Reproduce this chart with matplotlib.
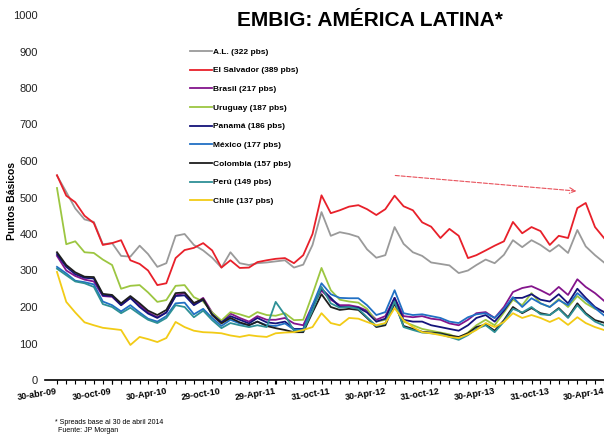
import numpy as np
import pandas as pd
import matplotlib
matplotlib.use('Agg')
import matplotlib.pyplot as plt
from matplotlib.transforms import ScaledTranslation

plt.rcParams['font.family'] = ['Liberation Sans', 'DejaVu Sans']

# fin de mes, abril 2009 - abril 2014
dates = pd.date_range('2009-04-30', '2014-04-30', freq='ME')

al = [560, 515, 470, 440, 433, 372, 375, 340, 338, 368, 345, 310, 320, 395, 400, 370,
      355, 335, 308, 350, 320, 315, 320, 322, 325, 328, 308, 316, 370, 460, 395, 405,
      400, 392, 358, 335, 342, 419, 373, 350, 340, 322, 318, 314, 293, 300, 315, 330,
      320, 343, 383, 364, 383, 370, 352, 370, 348, 411, 366, 342, 322]
salvador = [561, 505, 487, 450, 430, 370, 375, 383, 328, 318, 300, 260, 265, 334, 356, 362,
            375, 355, 308, 328, 307, 308, 323, 328, 332, 334, 320, 342, 400, 506, 457, 465,
            475, 479, 468, 452, 468, 505, 476, 465, 432, 420, 389, 414, 395, 334, 342, 355,
            368, 380, 433, 402, 419, 408, 370, 395, 389, 471, 485, 419, 389]
brasil = [340, 300, 285, 275, 270, 230, 228, 205, 225, 205, 185, 172, 185, 232, 238, 208,
          225, 185, 160, 182, 170, 160, 175, 165, 165, 170, 155, 150, 205, 245, 220, 205,
          205, 200, 190, 165, 175, 225, 175, 172, 175, 168, 165, 155, 150, 165, 183, 186,
          170, 200, 241, 252, 257, 246, 233, 255, 233, 276, 255, 238, 217]
uruguay = [526, 372, 380, 350, 348, 330, 315, 250, 258, 260, 240, 214, 219, 258, 260, 227,
           215, 185, 163, 186, 180, 172, 186, 178, 176, 183, 164, 165, 235, 307, 246, 220,
           215, 212, 195, 160, 165, 220, 160, 150, 140, 135, 130, 125, 115, 130, 150, 165,
           150, 185, 220, 205, 238, 210, 200, 222, 200, 230, 210, 195, 187]
panama = [345, 310, 290, 280, 278, 232, 230, 205, 225, 200, 182, 170, 185, 230, 232, 205,
          220, 180, 158, 175, 165, 155, 170, 158, 155, 160, 140, 140, 200, 250, 225, 200,
          200, 198, 185, 160, 168, 225, 165, 160, 160, 150, 145, 140, 135, 150, 170, 178,
          160, 190, 225, 225, 235, 220, 215, 235, 210, 250, 225, 200, 186]
mexico = [310, 292, 272, 268, 262, 215, 205, 188, 205, 185, 168, 160, 175, 210, 212, 180,
          195, 170, 148, 165, 155, 150, 160, 150, 148, 155, 138, 138, 205, 265, 235, 225,
          224, 224, 205, 178, 186, 246, 183, 178, 180, 175, 170, 160, 156, 172, 180, 183,
          170, 195, 227, 200, 224, 210, 200, 219, 205, 238, 219, 197, 177]
colombia = [350, 315, 295, 283, 282, 236, 233, 210, 230, 210, 190, 178, 192, 238, 240, 211,
            222, 178, 155, 170, 158, 150, 160, 148, 142, 137, 131, 131, 185, 235, 200, 192,
            195, 192, 170, 145, 150, 210, 148, 140, 132, 130, 128, 122, 118, 128, 145, 152,
            135, 164, 200, 183, 197, 183, 178, 197, 172, 210, 183, 164, 157]
peru = [305, 287, 270, 265, 255, 208, 200, 183, 198, 180, 165, 156, 170, 205, 200, 172,
        190, 164, 142, 156, 150, 145, 150, 145, 214, 178, 135, 135, 190, 255, 210, 198,
        200, 195, 172, 148, 155, 215, 145, 137, 130, 128, 125, 118, 110, 123, 140, 150,
        131, 160, 195, 185, 200, 180, 178, 195, 170, 205, 180, 160, 149]
chile = [296, 214, 185, 158, 150, 143, 140, 137, 96, 118, 112, 104, 115, 159, 145, 135,
         131, 130, 128, 122, 118, 123, 120, 118, 128, 130, 131, 137, 145, 183, 156, 150,
         170, 168, 159, 150, 156, 197, 164, 145, 131, 128, 123, 118, 115, 125, 137, 156,
         145, 159, 183, 170, 178, 170, 159, 170, 151, 172, 156, 145, 137]

series = [
    ('A.L. (322 pbs)', al, '#9a9a9a'),
    ('El Salvador (389 pbs)', salvador, '#e8202a'),
    ('Brasil (217 pbs)', brasil, '#84158c'),
    ('Uruguay (187 pbs)', uruguay, '#9cc641'),
    ('Panamá (186 pbs)', panama, '#14137a'),
    ('México (177 pbs)', mexico, '#2170c4'),
    ('Colombia (157 pbs)', colombia, '#1e1e1e'),
    ('Perú (149 pbs)', peru, '#2e9096'),
    ('Chile (137 pbs)', chile, '#f2cb16'),
]

tick_dates = ['2009-04-30', '2009-10-30', '2010-04-30', '2010-10-29', '2011-04-29', '2011-10-31',
              '2012-04-30', '2012-10-31', '2013-04-30', '2013-10-31', '2014-04-30']
tick_labels = ['30-abr-09', '30-oct-09', '30-Apr-10', '29-oct-10', '29-Apr-11', '31-oct-11',
               '30-Apr-12', '31-oct-12', '30-Apr-13', '31-oct-13', '30-Apr-14']

fig = plt.figure(figsize=(6.04, 4.36), dpi=100)
ax = fig.add_axes([45 / 604, 56 / 436, 559 / 604, 365 / 436])

for name, vals, col in series:
    ax.plot(dates, vals, color=col, lw=1.3, label=name)

ax.set_ylim(0, 1000)
ax.set_xlim(pd.Timestamp('2009-03-21'), pd.Timestamp('2014-04-30'))
ax.set_yticks(np.arange(0, 1001, 100))
ax.tick_params(axis='y', length=0, pad=5, labelsize=8, labelcolor='#222222')

ax.set_xticks(pd.to_datetime(tick_dates))
ax.set_xticklabels(tick_labels, fontsize=6.5, fontweight='bold', rotation=9)
ax.set_xticks(dates, minor=True)
ax.tick_params(axis='x', which='both', direction='out', length=3, width=0.8, pad=2)
shift = ScaledTranslation(-0.2, 0, fig.dpi_scale_trans)
for lab in ax.get_xticklabels():
    lab.set_transform(lab.get_transform() + shift)

for s in ['top', 'right', 'left']:
    ax.spines[s].set_visible(False)
ax.spines['bottom'].set_linewidth(1.2)

ax.set_ylabel('Puntos Básicos', fontsize=7.5, fontweight='bold')
ax.yaxis.set_label_coords(-0.05, 0.49)

ax.annotate('', xy=(pd.Timestamp('2014-02-06'), 517), xytext=(pd.Timestamp('2012-05-24'), 561),
            arrowprops=dict(arrowstyle='->', color='#e8505a', lw=0.8, ls='--'))

ax.legend(loc='upper left', bbox_to_anchor=(190 / 604, 1 - 48 / 436),
          bbox_transform=fig.transFigure, frameon=False,
          prop={'size': 6, 'weight': 'bold'}, handlelength=2.6,
          handletextpad=0.2, labelspacing=1.3, borderpad=0, borderaxespad=0)

fig.text(370 / 604, 1 - 21 / 436, 'EMBIG: AMÉRICA LATINA*', ha='center', va='center',
         fontsize=15, fontweight='bold')
fig.text(55 / 604, 1 - 422 / 436, '* Spreads base al 30 de abril 2014', fontsize=5, va='center')
fig.text(58 / 604, 1 - 430 / 436, 'Fuente: JP Morgan', fontsize=5, va='center')

fig.savefig('out.png', dpi=100)
